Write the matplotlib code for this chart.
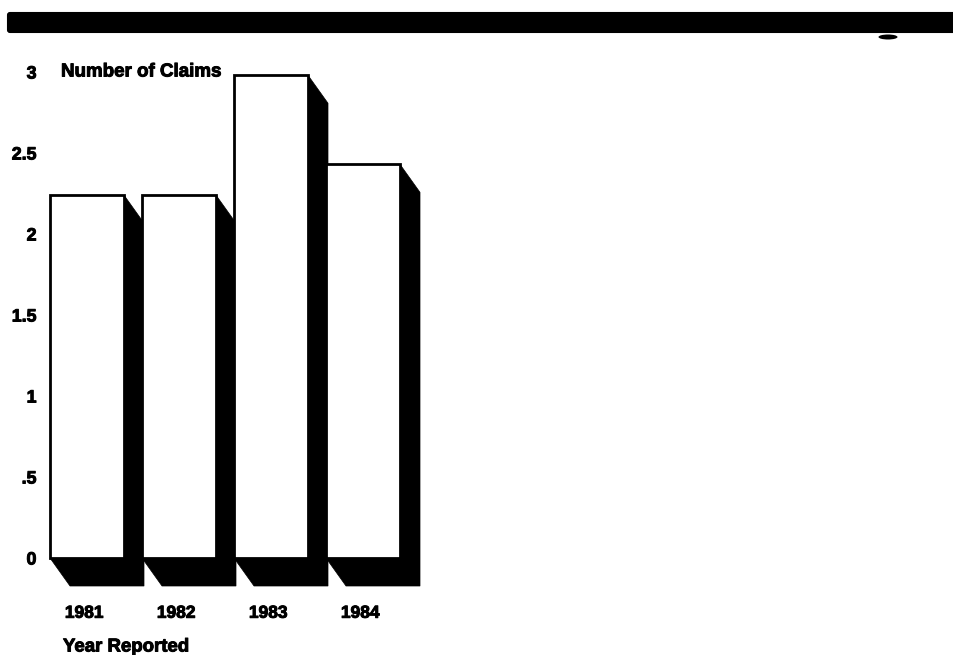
import numpy as np
import matplotlib
matplotlib.use('Agg')
import matplotlib.pyplot as plt
from matplotlib.patches import Ellipse, FancyBboxPatch, Polygon
import matplotlib.patheffects as pe

years = ['1981', '1982', '1983', '1984']
claims = [2.24, 2.24, 2.98, 2.43]
y_ticks = [0, 0.5, 1, 1.5, 2, 2.5, 3]
y_tick_labels = ['0', '.5', '1', '1.5', '2', '2.5', '3']

W, H = 954, 655
BAR_STEP = 92.0      # px between bars
UNIT = 162.0         # px per claim
SHADOW_DX = 20 / BAR_STEP
SHADOW_DY = 28 / UNIT

plt.rcParams['font.family'] = ['Liberation Sans', 'DejaVu Sans']
heavy = [pe.withStroke(linewidth=0.7, foreground='black')]

fig = plt.figure(figsize=(W / 100, H / 100), dpi=100, facecolor='white')

# axes placed by pixel so that y=0 sits on the bar feet
left, right = 40, 440
y0_px = 558
bottom_px = 587
top_px = 60
ax = fig.add_axes([left / W, 1 - bottom_px / H, (right - left) / W, (bottom_px - top_px) / H])
ax.set_xlim((left - 87) / BAR_STEP, (right - 87) / BAR_STEP)
ax.set_ylim((y0_px - bottom_px) / UNIT, (y0_px - top_px) / UNIT)

x = np.arange(len(years))
width = 74 / BAR_STEP

# extruded black side and floor behind each bar
for xi, val in zip(x, claims):
    x0, x1 = xi - width / 2, xi + width / 2
    ax.add_patch(Polygon([(x1, val), (x1 + SHADOW_DX, val - SHADOW_DY),
                          (x1 + SHADOW_DX, -SHADOW_DY), (x0 + SHADOW_DX, -SHADOW_DY),
                          (x0, 0), (x1, 0)],
                         closed=True, facecolor='black', edgecolor='black', lw=0.5,
                         zorder=2 + xi * 0.1))
    ax.bar(xi, val, width=width, facecolor='white', edgecolor='black', linewidth=2.0,
           zorder=2.05 + xi * 0.1)

for side in ax.spines.values():
    side.set_visible(False)
ax.patch.set_visible(False)

ax.set_yticks(y_ticks)
ax.set_yticklabels(y_tick_labels, fontsize=12.8, fontweight='bold', path_effects=heavy)
ax.tick_params(axis='y', length=0, pad=2.5)
ax.set_xticks(x - 0.03)
ax.set_xticklabels(years, fontsize=12.5, fontweight='bold', path_effects=heavy)
ax.tick_params(axis='x', length=0, pad=13.5)

ax.text((61 - 87) / BAR_STEP, 3.0, 'Number of Claims', fontsize=13.5, fontweight='bold',
        va='center', ha='left', path_effects=heavy)
ax.text((63 - 87) / BAR_STEP, (y0_px - 647) / UNIT, 'Year Reported', fontsize=13.4,
        fontweight='bold', va='center', ha='left', path_effects=heavy, clip_on=False)

# heavy band across the top of the page
overlay = fig.add_axes([0, 0, 1, 1], zorder=5)
overlay.set_xlim(0, W)
overlay.set_ylim(H, 0)
overlay.axis('off')
overlay.add_patch(FancyBboxPatch((8, 13), 960, 19, boxstyle='round,pad=0,rounding_size=2',
                                 facecolor='black', edgecolor='black', lw=1.5))
overlay.add_patch(Ellipse((888, 37), 19, 5, facecolor='black', edgecolor='none'))

fig.savefig('out.png', dpi=100)
